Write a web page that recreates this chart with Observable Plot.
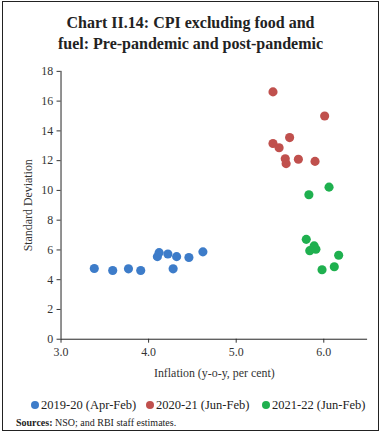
<!DOCTYPE html>
<html>
<head>
<meta charset="utf-8">
<script src="https://cdn.jsdelivr.net/npm/d3@7"></script>
<script src="https://cdn.jsdelivr.net/npm/@observablehq/plot@0.6"></script>
<style>
  html, body { margin: 0; padding: 0; background: #fff; }
  #frame {
    position: relative; box-sizing: border-box;
    width: 377px; height: 430px; margin: 1px 0 0 2px;
    border: 1.5px solid #222; font-family: "Liberation Serif", "DejaVu Serif", serif; color: #222;
  }
  #title { position: absolute; left: 0; right: 0; top: 10px; text-align: center;
    font-weight: bold; font-size: 16px; line-height: 21px; }
  #chart { position: absolute; left: -3px; top: 52px; }
  #legend { position: absolute; left: 0; top: 396px; width: 100%; height: 16px; font-size: 12.5px; white-space: nowrap; }
  #legend span.item { position: absolute; top: 0; }
  #legend span.dot { display: inline-block; width: 8px; height: 8px; border-radius: 50%; margin-right: 2px; vertical-align: 0px; }
  #source { position: absolute; left: 13px; top: 415px; font-size: 10px; }
</style>
</head>
<body>
<div id="frame">
  <div id="title">Chart II.14: CPI excluding food and<br>fuel: Pre-pandemic and post-pandemic</div>
  <div id="chart"></div>
  <div id="legend"></div>
  <div id="source"><b>Sources:</b> NSO; and RBI staff estimates.</div>
</div>
<script>
const seriesNames = ["2019-20 (Apr-Feb)", "2020-21 (Jun-Feb)", "2021-22 (Jun-Feb)"];
const seriesColors = ["#3d7cc9", "#c0504d", "#1fb04f"];

const x2019 = [3.38, 3.59, 3.77, 3.91, 4.10, 4.12, 4.22, 4.28, 4.32, 4.46, 4.62];
const y2019 = [4.75, 4.62, 4.73, 4.62, 5.55, 5.82, 5.73, 4.73, 5.55, 5.49, 5.87];

const x2020 = [5.42, 6.01, 5.61, 5.42, 5.49, 5.56, 5.57, 5.71, 5.90];
const y2020 = [16.62, 15.0, 13.55, 13.15, 12.87, 12.13, 11.8, 12.09, 11.95];

const x2021 = [6.06, 5.83, 5.80, 5.89, 5.91, 5.84, 6.17, 6.12, 5.98];
const y2021 = [10.22, 9.71, 6.71, 6.27, 6.05, 5.95, 5.64, 4.87, 4.67];

const xTicks = [3, 4, 5, 6];
const yTicks = [0, 2, 4, 6, 8, 10, 12, 14, 16, 18];

const data = [];
[[x2019, y2019], [x2020, y2020], [x2021, y2021]].forEach(([xs, ys], i) => {
  xs.forEach((v, j) => data.push({series: seriesNames[i], x: v, y: ys[j]}));
});

const chart = Plot.plot({
  width: 381,
  height: 336,
  marginLeft: 61,
  marginRight: 11,
  marginTop: 17,
  marginBottom: 49,
  style: {fontFamily: "'Liberation Serif', serif", fontSize: "12px", color: "#333", background: "transparent"},
  x: {domain: [3, 6.5]},
  y: {domain: [0, 18]},
  color: {domain: seriesNames, range: seriesColors},
  marks: [
    Plot.axisX({ticks: xTicks, tickFormat: d => d.toFixed(1), tickSize: 4, tickPadding: 4,
      label: "Inflation (y-o-y, per cent)", labelAnchor: "center", labelOffset: 38, labelArrow: "none", fontSize: 12}),
    Plot.axisY({ticks: yTicks, tickSize: 4, tickPadding: 4,
      label: "Standard Deviation", labelAnchor: "center", labelOffset: 38, labelArrow: "none", fontSize: 12}),
    Plot.ruleY([0], {stroke: "#222"}),
    Plot.ruleX([3], {stroke: "#222"}),
    Plot.dot(data, {x: "x", y: "y", fill: "series", r: 4.6, stroke: "none"})
  ]
});
document.getElementById("chart").appendChild(chart);

const legendX = [28, 143, 259];
const legend = document.getElementById("legend");
seriesNames.forEach((n, i) => {
  const s = document.createElement("span");
  s.className = "item";
  s.style.left = legendX[i] + "px";
  s.innerHTML = `<span class="dot" style="background:${seriesColors[i]}"></span>${n}`;
  legend.appendChild(s);
});
</script>
</body>
</html>
